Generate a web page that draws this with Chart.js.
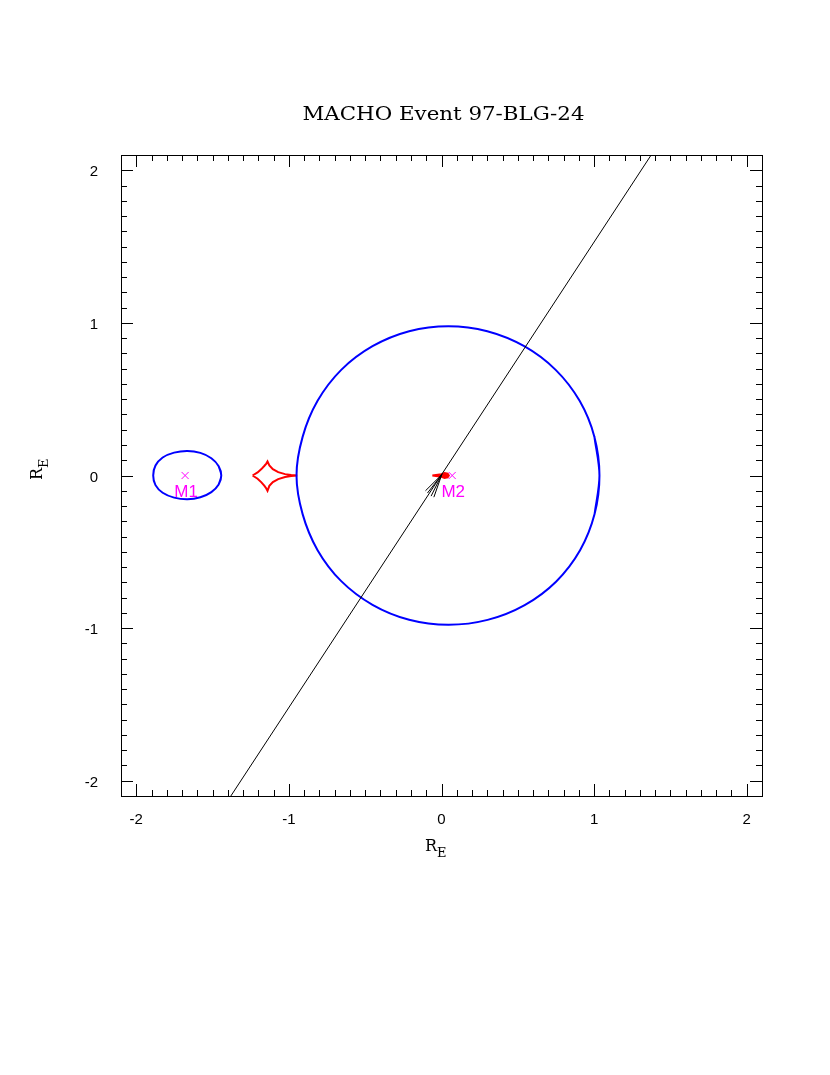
<!DOCTYPE html>
<html>
<head>
<meta charset="utf-8">
<style>
  html, body { margin: 0; padding: 0; background: #ffffff; }
  canvas { display: block; }
</style>
<script src="https://cdn.jsdelivr.net/npm/chart.js@4/dist/chart.umd.min.js"></script>
</head>
<body>
<canvas id="c" width="830" height="1075"></canvas>
<script>
// ---- chart text ----
const titleText = 'MACHO Event 97-BLG-24';
const axisTitleMain = 'R';
const axisTitleSub = 'E';

// ---- axes ----
const xRange = [-2.1, 2.1];
const yRange = [-2.1, 2.1];
const xTickValues = [-2, -1, 0, 1, 2];
const xTickLabels = ['-2', '-1', '0', '1', '2'];
const yTickValues = [-2, -1, 0, 1, 2];
const yTickLabels = ['-2', '-1', '0', '1', '2'];

// ---- large critical curve around M2 (x, y); first/last points overlap to close smoothly ----
const bigCurveX = [1.003, 1.035, 1.002, 0.905, 0.748, 0.542, 0.300, 0.045, -0.212, -0.452, -0.657, -0.812, -0.910, -0.950,
                   -0.910, -0.812, -0.657, -0.452, -0.212, 0.045, 0.302, 0.545, 0.752, 0.908, 1.003, 1.035, 1.002];
const bigCurveY = [-0.253, 0.000, 0.253, 0.489, 0.692, 0.847, 0.945, 0.978, 0.945, 0.847, 0.692, 0.489, 0.253, 0.000,
                   -0.253, -0.489, -0.692, -0.847, -0.945, -0.978, -0.946, -0.849, -0.694, -0.490, -0.253, 0.000, 0.253];

// ---- small critical curve around M1 ----
const smallCurveX = [-1.460, -1.443, -1.460, -1.508, -1.580, -1.665, -1.752, -1.827, -1.874, -1.889,
                     -1.874, -1.827, -1.752, -1.665, -1.580, -1.508, -1.460, -1.443, -1.460];
const smallCurveY = [-0.059, 0.000, 0.061, 0.113, 0.148, 0.161, 0.150, 0.118, 0.065, 0.000,
                     -0.063, -0.113, -0.145, -0.156, -0.143, -0.109, -0.059, 0.000, 0.061];

// ---- caustic (left, 4 cusps) ----
const causticAX = [-1.238, -1.205, -1.180, -1.160, -1.148, -1.140, -1.128, -1.105, -1.070, -1.025, -0.985, -0.945,
                   -0.985, -1.025, -1.070, -1.105, -1.128, -1.140, -1.148, -1.160, -1.180, -1.205, -1.238];
const causticAY = [0.000, 0.020, 0.042, 0.064, 0.078, 0.092, 0.066, 0.041, 0.022, 0.009, 0.003, 0.000,
                   -0.003, -0.010, -0.024, -0.043, -0.068, -0.100, -0.085, -0.068, -0.045, -0.021, 0.000];

// ---- caustic (small, near M2) ----
const causticBX = [-0.060, 0.000, 0.020, 0.040, 0.048, 0.040, 0.020, 0.000, -0.060];
const causticBY = [0.000, 0.008, 0.016, 0.012, 0.000, -0.012, -0.016, -0.008, 0.000];

// ---- source trajectory ----
const trajX = [-1.40, 1.40];
const trajY = [-2.13, 2.14];
const arrowX = [-0.105, 0.002, -0.050];
const arrowY = [-0.100, 0.006, -0.142];
const arrowInnerX = [-0.092, 0.002, -0.068];
const arrowInnerY = [-0.115, 0.006, -0.135];

// ---- lens masses ----
const massNames = ['M1', 'M2'];
const massX = [-1.68, 0.07];
const massY = [0.0, 0.0];

const zip = (xs, ys) => xs.map((v, i) => ({ x: v, y: ys[i] }));

const decor = {
  id: 'decor',
  afterDatasetsDraw(chart) {
    const { ctx, chartArea: { left, right, top, bottom }, scales: { x, y } } = chart;
    ctx.save();
    // frame
    ctx.strokeStyle = '#000';
    ctx.lineWidth = 1;
    ctx.strokeRect(Math.round(left) + 0.5, Math.round(top) + 0.5, Math.round(right - left), Math.round(bottom - top));
    // inward ticks on all four sides
    ctx.beginPath();
    for (let i = -21; i <= 21; i++) {
      const v = i / 10;
      const len = (i % 10 === 0) ? 12 : 6;
      const px = Math.round(x.getPixelForValue(v)) + 0.5;
      if (px > left + 1 && px < right - 1) {
        ctx.moveTo(px, bottom); ctx.lineTo(px, bottom - len);
        ctx.moveTo(px, top); ctx.lineTo(px, top + len);
      }
      const py = Math.round(y.getPixelForValue(v)) + 0.5;
      if (py > top + 1 && py < bottom - 1) {
        ctx.moveTo(left, py); ctx.lineTo(left + len, py);
        ctx.moveTo(right, py); ctx.lineTo(right - len, py);
      }
    }
    ctx.stroke();

    // title (glyphs stretched horizontally to mimic the wide plotting font)
    ctx.fillStyle = '#000';
    ctx.font = '18px "DejaVu Serif"';
    ctx.textAlign = 'center';
    ctx.textBaseline = 'alphabetic';
    const w = ctx.measureText(titleText).width;
    const sx = 282 / w;
    ctx.save();
    ctx.translate((left + right) / 2 + 2, 120);
    ctx.scale(sx, 1);
    ctx.fillText(titleText, 0, 0);
    ctx.restore();

    // x axis title
    ctx.textAlign = 'left';
    ctx.font = '16px "DejaVu Serif"';
    ctx.fillText(axisTitleMain, 425, 851);
    ctx.font = '13px "DejaVu Serif"';
    ctx.fillText(axisTitleSub, 437, 857);

    // y axis title (rotated)
    ctx.save();
    ctx.translate(42, 480);
    ctx.rotate(-Math.PI / 2);
    ctx.font = '16px "DejaVu Serif"';
    ctx.fillText(axisTitleMain, 0, 0);
    ctx.font = '13px "DejaVu Serif"';
    ctx.fillText(axisTitleSub, 12, 6);
    ctx.restore();

    // mass labels
    ctx.fillStyle = '#ff00ff';
    ctx.font = '17px "Liberation Sans"';
    ctx.textAlign = 'center';
    ctx.textBaseline = 'middle';
    massNames.forEach((n, i) => {
      ctx.fillText(n, x.getPixelForValue(massX[i]) + 1, y.getPixelForValue(massY[i]) + 17);
    });
    ctx.restore();
  }
};

const lineDs = (label, data, color, width, tension) => ({
  label, data, showLine: true, borderColor: color, backgroundColor: color,
  borderWidth: width, pointRadius: 0, tension: tension, fill: false
});

const smallCaustic = lineDs('caustic 2', zip(causticBX, causticBY), '#ff0000', 2, 0);
smallCaustic.fill = 'shape';

new Chart(document.getElementById('c'), {
  type: 'scatter',
  data: {
    datasets: [
      lineDs('trajectory', zip(trajX, trajY), '#000000', 1, 0),
      lineDs('arrow', zip(arrowX, arrowY), '#000000', 1, 0),
      lineDs('arrow2', zip(arrowInnerX, arrowInnerY), '#000000', 1, 0),
      lineDs('critical curve 2', zip(bigCurveX, bigCurveY), '#0000ff', 2, 0.33),
      lineDs('critical curve 1', zip(smallCurveX, smallCurveY), '#0000ff', 2, 0.33),
      lineDs('caustic 1', zip(causticAX, causticAY), '#ff0000', 2, 0),
      smallCaustic,
      {
        label: 'masses', data: zip(massX, massY), showLine: false,
        pointStyle: 'crossRot', pointRadius: 5, borderColor: '#ff00ff',
        backgroundColor: '#ff00ff', borderWidth: 1
      }
    ]
  },
  options: {
    responsive: false,
    animation: false,
    devicePixelRatio: 1,
    events: [],
    layout: { padding: { left: 0, right: 68, top: 155, bottom: 239 } },
    plugins: { legend: { display: false }, title: { display: false }, tooltip: { enabled: false } },
    scales: {
      x: {
        type: 'linear', min: xRange[0], max: xRange[1],
        grid: { display: false }, border: { display: false },
        afterFit(s) { s.height = 40; },
        afterBuildTicks(s) { s.ticks = xTickValues.map(v => ({ value: v })); },
        ticks: {
          padding: 7, color: '#000', maxRotation: 0,
          font: { family: 'Liberation Sans', size: 15 },
          callback: (v) => xTickLabels[xTickValues.indexOf(v)]
        }
      },
      y: {
        type: 'linear', min: yRange[0], max: yRange[1],
        grid: { display: false }, border: { display: false },
        afterFit(s) { s.width = 121; },
        afterBuildTicks(s) { s.ticks = yTickValues.map(v => ({ value: v })); },
        ticks: {
          padding: 15, color: '#000', labelOffset: 2,
          font: { family: 'Liberation Sans', size: 15 },
          callback: (v) => yTickLabels[yTickValues.indexOf(v)]
        }
      }
    }
  },
  plugins: [decor]
});
</script>
</body>
</html>
